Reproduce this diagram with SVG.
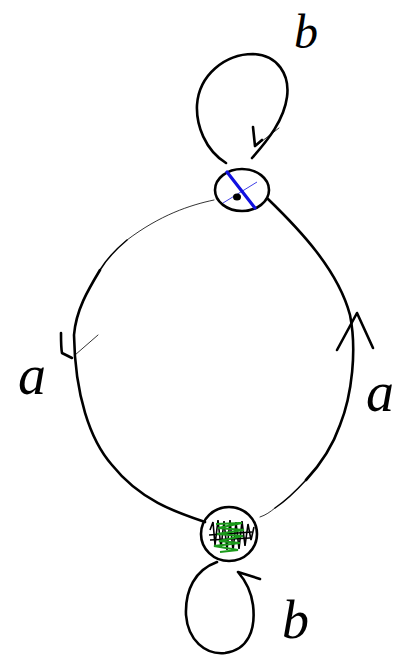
<svg xmlns="http://www.w3.org/2000/svg" width="410" height="659" viewBox="0 0 410 659">
<style>
.thick{fill:none;stroke:#000;stroke-width:2.6;stroke-linecap:round;stroke-linejoin:round}
.mid{fill:none;stroke:#000;stroke-width:1.5;stroke-linecap:round}
.thin{fill:none;stroke:#000;stroke-width:0.8;stroke-linecap:round}
.lbl{font-family:"Liberation Serif",serif;font-style:italic;fill:#000}
</style>
<rect width="410" height="659" fill="#fff"/>
<g id="connectors">
  <path class="thin" d="M214,200 C190,205 160,215 127,240"/>
  <path class="mid" d="M127,240 C115,250 106,260 100,270"/>
  <path class="thick" d="M100,270 C88,290 76,310 74,335 C75,395 90,440 112,465 C140,500 175,512 205,522"/>
  <path class="thick" d="M61,333 C61,340 61,348 62,353 L72,358"/>
  <path class="thin" d="M98,335 L75,355"/>
  <path class="thick" d="M268,199 C300,230 338,270 350,315 C357,350 352,395 340,425 C333,445 320,465 306,480"/>
  <path class="mid" d="M306,480 C295,492 284,502 275,508"/>
  <path class="thin" d="M275,508 C270,512 266,515 260,517"/>
  <path class="thick" d="M337,350 L357,313 L373,348"/>
  <path class="thick" d="M226,163 C205,150 196,125 197,105 C199,75 225,54 253,54 C278,55 290,75 287,97 C284,120 268,140 252,158"/>
  <path class="thick" d="M253,127 L255,146 L262,140"/>
  <path class="thin" d="M279,128 L257,145"/>
  <path class="thick" d="M217,562 C195,570 185,590 186,615 C188,640 205,655 225,653 C248,650 256,630 253,605 C251,590 245,580 238,572 L260,579"/>
</g>
<g id="node-top">
  <ellipse class="thick" cx="242" cy="190" rx="27" ry="21"/>
  <line x1="227" y1="172" x2="255" y2="208" stroke="#1010e0" stroke-width="3.2" stroke-linecap="round"/>
  <line x1="223" y1="203" x2="257" y2="182" stroke="#1010e0" stroke-width="0.8"/>
  <ellipse cx="237" cy="197" rx="4" ry="3.5" fill="#000"/>
</g>
<g id="node-bottom">
  <ellipse class="thick" cx="229" cy="534" rx="28" ry="27"/>
  <path fill="none" stroke="#000" stroke-width="1.6" d="M210,530 L213,522 L215,545 L218,520 L221,548 L224,521 L227,550 L230,520 L233,551 L236,522 L239,549 L242,521 L245,546 L248,524 L251,540 L254,527"/>
  <path fill="none" stroke="#000" stroke-width="1.6" d="M209,535 L252,532 M210,540 L250,538"/>
  <path fill="none" stroke="#1a9a1a" stroke-width="2.2" d="M216,524 L242,523 L218,528 L244,530 L217,534 L243,536 L219,541 L240,543 L214,546 L238,550 L220,552"/>
</g>
<g id="labels">
  <text class="lbl" x="294" y="48" font-size="48">b</text>
  <text class="lbl" x="282" y="638" font-size="54">b</text>
  <text class="lbl" x="18" y="394" font-size="56">a</text>
  <text class="lbl" x="366" y="411" font-size="56">a</text>
</g>
</svg>
